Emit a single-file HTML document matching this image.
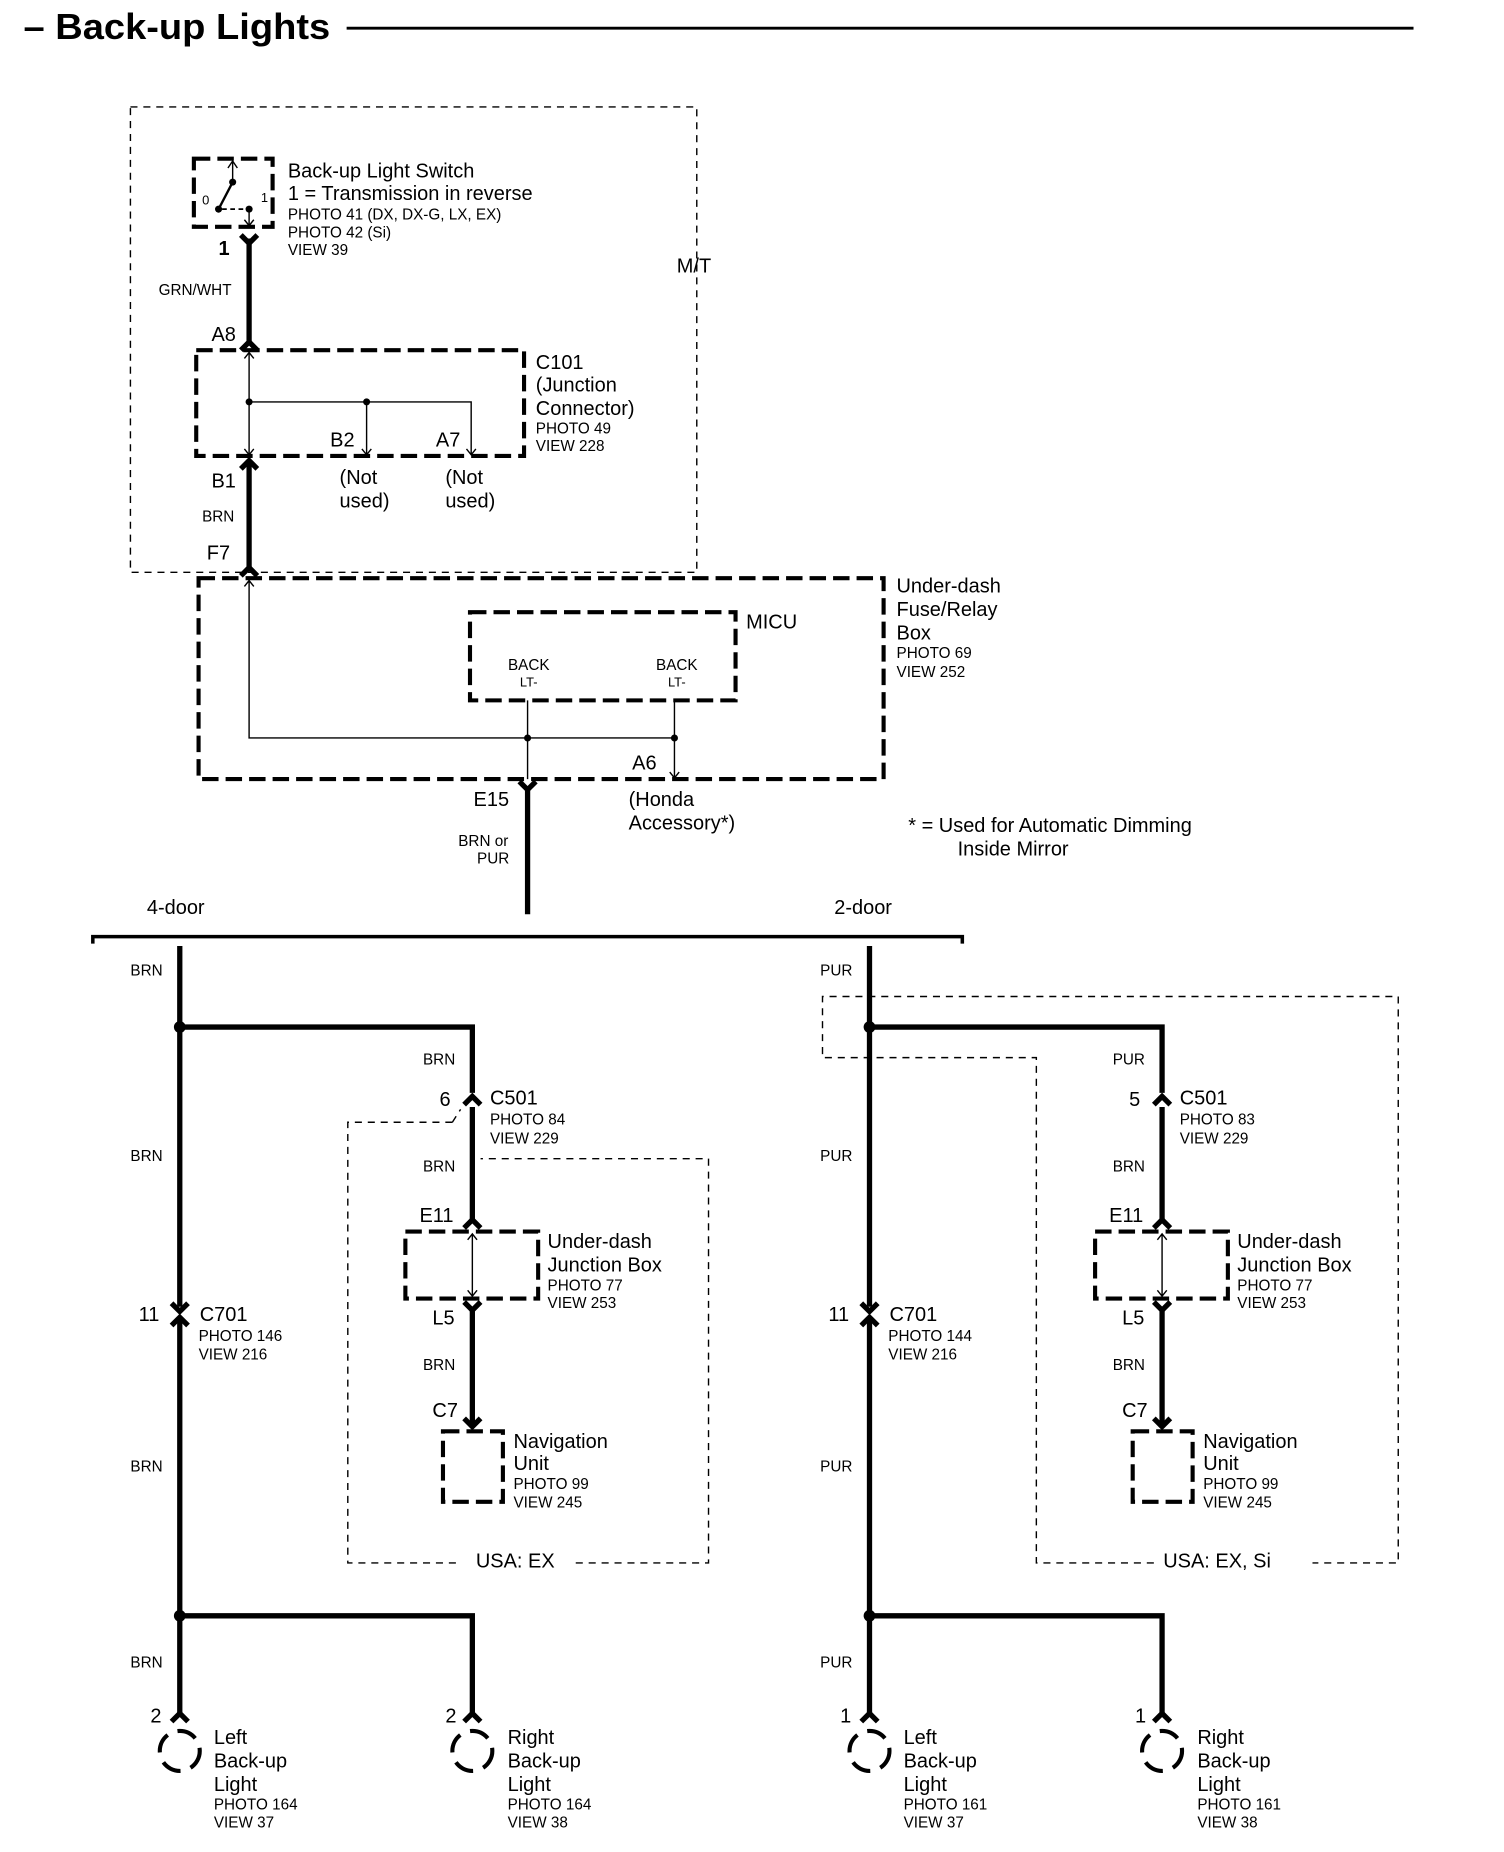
<!DOCTYPE html>
<html><head><meta charset="utf-8"><style>html,body{margin:0;padding:0;background:#fff}svg{display:block}text{font-family:"Liberation Sans",sans-serif;fill:#000}.b{font-size:17px}.s{font-size:13px}.w{fill:none;stroke:#000;stroke-width:4.5}.t{fill:none;stroke:#000;stroke-width:1.2}.d{fill:none;stroke:#000;stroke-width:3.5;stroke-dasharray:14 6}.r{fill:none;stroke:#000;stroke-width:1.2;stroke-dasharray:6 5}</style></head><body>
<svg width="1504" height="1852" viewBox="0 0 1280 1576" preserveAspectRatio="none" xmlns="http://www.w3.org/2000/svg">
<text x="20" y="33" style="font-size:31px;font-weight:bold" textLength="261" lengthAdjust="spacingAndGlyphs">– Back-up Lights</text>
<line x1="295" y1="24" x2="1203" y2="24" stroke="#000" stroke-width="2.5"/>
<!-- M/T region -->
<rect x="111" y="91" width="482" height="396" class="r"/>
<text x="576" y="232" class="b">M/T</text>
<!-- switch -->
<rect x="165" y="135" width="67" height="58" class="d" stroke-width="3"/>
<line x1="186" y1="178" x2="198" y2="155" stroke="#000" stroke-width="2"/>
<line x1="198" y1="155" x2="198" y2="138" class="t"/><path d="M194,143 L198,137 L202,143" class="t"/>
<circle cx="186" cy="178" r="3"/><circle cx="198" cy="155" r="3"/><circle cx="212" cy="178" r="3"/>
<line x1="189" y1="178" x2="209" y2="178" stroke="#000" stroke-width="1.5" stroke-dasharray="4 3"/>
<line x1="212" y1="178" x2="212" y2="192" class="t"/><path d="M208,187 L212,192 L216,187" class="t"/>
<text x="172" y="174" style="font-size:11px">0</text><text x="222" y="172" style="font-size:11px">1</text>
<text x="245" y="151" class="b">Back-up Light Switch</text>
<text x="245" y="170" class="b">1 = Transmission in reverse</text>
<text x="245" y="187" class="s">PHOTO 41 (DX, DX-G, LX, EX)</text>
<text x="245" y="202" class="s">PHOTO 42 (Si)</text>
<text x="245" y="217" class="s">VIEW 39</text>
<line x1="212" y1="203" x2="212" y2="294" class="w"/>
<path d="M205,200 L212,207 L219,200" class="w" stroke-width="2.5"/>
<path d="M205,298 L212,291 L219,298" class="w" stroke-width="2.5"/>
<text x="186" y="217" class="b" font-weight="bold">1</text>
<text x="135" y="251" class="s">GRN/WHT</text>
<text x="180" y="290" class="b">A8</text>
<!-- C101 -->
<rect x="167" y="298" width="279" height="90" class="d"/>
<line x1="212" y1="300" x2="212" y2="387" class="t"/><path d="M208,305 L212,300 L216,305 M208,382 L212,387 L216,382" class="t"/>
<path d="M212,342 L401,342 L401,387 M312,342 L312,387 M308,382 L312,387 L316,382 M397,382 L401,387 L405,382" class="t"/>
<circle cx="212" cy="342" r="3"/><circle cx="312" cy="342" r="3"/>
<text x="281" y="380" class="b">B2</text><text x="371" y="380" class="b">A7</text>
<text x="456" y="314" class="b">C101</text><text x="456" y="333" class="b">(Junction</text><text x="456" y="353" class="b">Connector)</text>
<text x="456" y="369" class="s">PHOTO 49</text><text x="456" y="384" class="s">VIEW 228</text>
<text x="180" y="415" class="b">B1</text>
<text x="289" y="412" class="b">(Not</text><text x="289" y="432" class="b">used)</text>
<text x="379" y="412" class="b">(Not</text><text x="379" y="432" class="b">used)</text>
<line x1="212" y1="394" x2="212" y2="486" class="w"/>
<path d="M205,399 L212,392 L219,399" class="w" stroke-width="2.5"/>
<path d="M205,490 L212,483 L219,490" class="w" stroke-width="2.5"/>
<text x="172" y="444" class="s">BRN</text><text x="176" y="476" class="b">F7</text>
<!-- fuse box -->
<rect x="169" y="492" width="583" height="171" class="d"/>
<text x="763" y="504" class="b">Under-dash</text><text x="763" y="524" class="b">Fuse/Relay</text><text x="763" y="544" class="b">Box</text>
<text x="763" y="560" class="s">PHOTO 69</text><text x="763" y="576" class="s">VIEW 252</text>
<rect x="400" y="521" width="226" height="75" class="d"/>
<text x="635" y="535" class="b">MICU</text>
<text x="450" y="570" class="s" text-anchor="middle">BACK</text><text x="450" y="584" style="font-size:11px" text-anchor="middle">LT-</text>
<text x="576" y="570" class="s" text-anchor="middle">BACK</text><text x="576" y="584" style="font-size:11px" text-anchor="middle">LT-</text>
<path d="M212,494 L212,628 L574,628 M449,596 L449,663 M574,596 L574,662 M208,499 L212,494 L216,499 M570,657 L574,662 L578,657" class="t"/>
<circle cx="449" cy="628" r="3"/><circle cx="574" cy="628" r="3"/>
<text x="538" y="655" class="b">A6</text>
<text x="403" y="686" class="b">E15</text>
<line x1="449" y1="670" x2="449" y2="778" class="w"/>
<path d="M442,665 L449,672 L456,665" class="w" stroke-width="2.5"/>
<text x="390" y="720" class="s">BRN or</text><text x="406" y="735" class="s">PUR</text>
<text x="535" y="686" class="b">(Honda</text><text x="535" y="706" class="b">Accessory*)</text>
<text x="773" y="708" class="b">* = Used for Automatic Dimming</text><text x="815" y="728" class="b">Inside Mirror</text>
<!-- bus -->
<path d="M79,803 L79,797 L819,797 L819,803" fill="none" stroke="#000" stroke-width="3"/>
<text x="125" y="778" class="b">4-door</text><text x="710" y="778" class="b">2-door</text>

<!-- left branch -->
<g>
<line x1="153" y1="805" x2="153" y2="1112" class="w"/><line x1="153" y1="1124" x2="153" y2="1460" class="w"/>
<path d="M146,1109 L153,1116 L160,1109 M146,1128 L153,1121 L160,1128" class="w" stroke-width="2.5"/>
<circle cx="153" cy="874" r="5"/><circle cx="153" cy="1375" r="5"/>
<path d="M153,874 L402,874 L402,930 M153,1375 L402,1375 L402,1460" class="w"/>
<path d="M395,940 L402,933 L409,940" class="w" stroke-width="2.5"/>
<line x1="402" y1="942" x2="402" y2="1040" class="w"/>
<path d="M395,1045 L402,1038 L409,1045" class="w" stroke-width="2.5"/>
<text x="111" y="830" class="s">BRN</text><text x="111" y="988" class="s">BRN</text><text x="111" y="1252" class="s">BRN</text><text x="111" y="1419" class="s">BRN</text>
<text x="118" y="1124" class="b">11</text><text x="170" y="1124" class="b">C701</text>
<text x="169" y="1141" class="s">PHOTO 146</text><text x="169" y="1157" class="s">VIEW 216</text>
<text x="360" y="906" class="s">BRN</text><text x="374" y="941" class="b">6</text>
<text x="417" y="940" class="b">C501</text><text x="417" y="957" class="s">PHOTO 84</text><text x="417" y="973" class="s">VIEW 229</text>
<text x="360" y="997" class="s">BRN</text><text x="357" y="1040" class="b">E11</text>
<rect x="345" y="1048" width="113" height="57" class="d"/>
<path d="M402,1050 L402,1103 M398,1055 L402,1050 L406,1055 M398,1098 L402,1103 L406,1098" class="t"/>
<text x="466" y="1062" class="b">Under-dash</text><text x="466" y="1082" class="b">Junction Box</text>
<text x="466" y="1098" class="s">PHOTO 77</text><text x="466" y="1113" class="s">VIEW 253</text>
<text x="368" y="1127" class="b">L5</text>
<line x1="402" y1="1112" x2="402" y2="1212" class="w"/>
<path d="M395,1108 L402,1115 L409,1108 M395,1207 L402,1214 L409,1207" class="w" stroke-width="2.5"/>
<text x="360" y="1166" class="s">BRN</text><text x="368" y="1206" class="b">C7</text>
<rect x="377" y="1218" width="51" height="60" class="d"/>
<text x="437" y="1232" class="b">Navigation</text><text x="437" y="1251" class="b">Unit</text>
<text x="437" y="1267" class="s">PHOTO 99</text><text x="437" y="1283" class="s">VIEW 245</text>
<path d="M385,955 L296,955 L296,1330 L393,1330 M490,1330 L603,1330 L603,986 L409,986 M385,955 L392,944" class="r"/>
<text x="405" y="1334" class="b">USA: EX</text>
<text x="128" y="1466" class="b">2</text><text x="379" y="1466" class="b">2</text>
<path d="M146,1465 L153,1458 L160,1465 M395,1465 L402,1458 L409,1465" class="w" stroke-width="2.5"/>
<circle cx="153" cy="1490" r="17" fill="none" stroke="#000" stroke-width="3.5" stroke-dasharray="17 9"/>
<circle cx="402" cy="1490" r="17" fill="none" stroke="#000" stroke-width="3.5" stroke-dasharray="17 9"/>
<text x="182" y="1484" class="b">Left</text><text x="182" y="1504" class="b">Back-up</text><text x="182" y="1524" class="b">Light</text>
<text x="182" y="1540" class="s">PHOTO 164</text><text x="182" y="1555" class="s">VIEW 37</text>
<text x="432" y="1484" class="b">Right</text><text x="432" y="1504" class="b">Back-up</text><text x="432" y="1524" class="b">Light</text>
<text x="432" y="1540" class="s">PHOTO 164</text><text x="432" y="1555" class="s">VIEW 38</text>
</g>

<!-- right branch -->
<g transform="translate(587,0)">
<line x1="153" y1="805" x2="153" y2="1112" class="w"/><line x1="153" y1="1124" x2="153" y2="1460" class="w"/>
<path d="M146,1109 L153,1116 L160,1109 M146,1128 L153,1121 L160,1128" class="w" stroke-width="2.5"/>
<circle cx="153" cy="874" r="5"/><circle cx="153" cy="1375" r="5"/>
<path d="M153,874 L402,874 L402,930 M153,1375 L402,1375 L402,1460" class="w"/>
<path d="M395,940 L402,933 L409,940" class="w" stroke-width="2.5"/>
<line x1="402" y1="942" x2="402" y2="1040" class="w"/>
<path d="M395,1045 L402,1038 L409,1045" class="w" stroke-width="2.5"/>
<text x="111" y="830" class="s">PUR</text><text x="111" y="988" class="s">PUR</text><text x="111" y="1252" class="s">PUR</text><text x="111" y="1419" class="s">PUR</text>
<text x="118" y="1124" class="b">11</text><text x="170" y="1124" class="b">C701</text>
<text x="169" y="1141" class="s">PHOTO 144</text><text x="169" y="1157" class="s">VIEW 216</text>
<text x="360" y="906" class="s">PUR</text><text x="374" y="941" class="b">5</text>
<text x="417" y="940" class="b">C501</text><text x="417" y="957" class="s">PHOTO 83</text><text x="417" y="973" class="s">VIEW 229</text>
<text x="360" y="997" class="s">BRN</text><text x="357" y="1040" class="b">E11</text>
<rect x="345" y="1048" width="113" height="57" class="d"/>
<path d="M402,1050 L402,1103 M398,1055 L402,1050 L406,1055 M398,1098 L402,1103 L406,1098" class="t"/>
<text x="466" y="1062" class="b">Under-dash</text><text x="466" y="1082" class="b">Junction Box</text>
<text x="466" y="1098" class="s">PHOTO 77</text><text x="466" y="1113" class="s">VIEW 253</text>
<text x="368" y="1127" class="b">L5</text>
<line x1="402" y1="1112" x2="402" y2="1212" class="w"/>
<path d="M395,1108 L402,1115 L409,1108 M395,1207 L402,1214 L409,1207" class="w" stroke-width="2.5"/>
<text x="360" y="1166" class="s">BRN</text><text x="368" y="1206" class="b">C7</text>
<rect x="377" y="1218" width="51" height="60" class="d"/>
<text x="437" y="1232" class="b">Navigation</text><text x="437" y="1251" class="b">Unit</text>
<text x="437" y="1267" class="s">PHOTO 99</text><text x="437" y="1283" class="s">VIEW 245</text>
<path d="M395,1330 L295,1330 L295,900 L113,900 L113,848 L603,848 L603,1330 L530,1330" class="r"/>
<text x="403" y="1334" class="b">USA: EX, Si</text>
<text x="128" y="1466" class="b">1</text><text x="379" y="1466" class="b">1</text>
<path d="M146,1465 L153,1458 L160,1465 M395,1465 L402,1458 L409,1465" class="w" stroke-width="2.5"/>
<circle cx="153" cy="1490" r="17" fill="none" stroke="#000" stroke-width="3.5" stroke-dasharray="17 9"/>
<circle cx="402" cy="1490" r="17" fill="none" stroke="#000" stroke-width="3.5" stroke-dasharray="17 9"/>
<text x="182" y="1484" class="b">Left</text><text x="182" y="1504" class="b">Back-up</text><text x="182" y="1524" class="b">Light</text>
<text x="182" y="1540" class="s">PHOTO 161</text><text x="182" y="1555" class="s">VIEW 37</text>
<text x="432" y="1484" class="b">Right</text><text x="432" y="1504" class="b">Back-up</text><text x="432" y="1524" class="b">Light</text>
<text x="432" y="1540" class="s">PHOTO 161</text><text x="432" y="1555" class="s">VIEW 38</text>
</g>
</svg>
</body></html>
